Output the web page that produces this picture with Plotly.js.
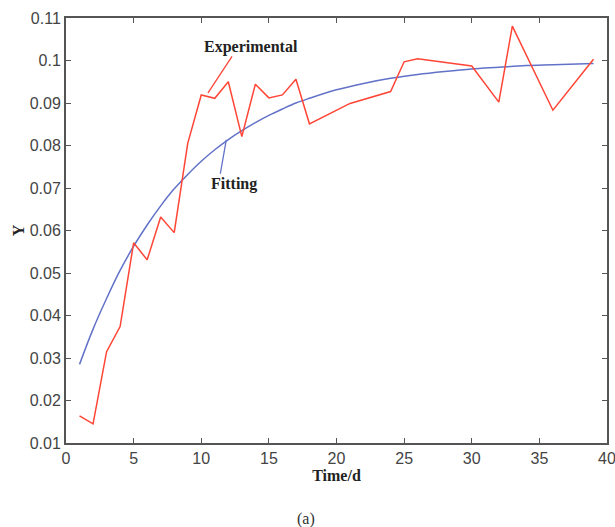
<!DOCTYPE html>
<html>
<head>
<meta charset="utf-8">
<script src="https://cdn.plot.ly/plotly-3.0.1.min.js"></script>
<style>
  html, body { margin: 0; padding: 0; background: #ffffff; }
  #chart { width: 615px; height: 527px; }
</style>
</head>
<body>
<div id="chart"></div>
<script>
// Experimental measurements (Time/d, Y)
const expDays = [1, 2, 3, 4, 5, 6, 7, 8, 9, 10, 11, 12, 13, 14, 15, 16, 17, 18, 21, 24, 25, 26, 30, 32, 33, 36, 39];
const expY = [0.0164, 0.0145, 0.0315, 0.0374, 0.0571, 0.0531, 0.0632, 0.0595, 0.0805, 0.0919, 0.0911, 0.0950, 0.0821, 0.0944, 0.0912, 0.0919, 0.0956, 0.0851, 0.0899, 0.0927, 0.0997, 0.1004, 0.0987, 0.0902, 0.1081, 0.0883, 0.1003];

// Fitted curve
const fitDays = [1, 2, 3, 4, 5, 6, 7, 8, 9, 10, 11, 12, 13, 14, 15, 16, 17, 18, 20, 22, 24, 26, 28, 30, 32, 34, 36, 39];
const fitY = [0.0285, 0.0368, 0.0440, 0.0506, 0.0563, 0.0613, 0.0658, 0.0698, 0.0732, 0.0763, 0.0790, 0.0814, 0.0835, 0.0854, 0.0871, 0.0886, 0.0900, 0.0911, 0.0931, 0.0946, 0.0958, 0.0967, 0.0974, 0.0980, 0.0984, 0.0988, 0.0990, 0.0993];

// Axis ticks
const xTickVals = [0, 5, 10, 15, 20, 25, 30, 35, 40];
const yTickVals = [0.01, 0.02, 0.03, 0.04, 0.05, 0.06, 0.07, 0.08, 0.09, 0.1, 0.11];
const yTickText = ["0.01", "0.02", "0.03", "0.04", "0.05", "0.06", "0.07", "0.08", "0.09", "0.1", "0.11"];

// Callout labels and their leader lines: [label x, label y], [tip x, tip y], [tail x, tail y]
const expLabel = {text: "Experimental", pos: [13.7, 0.1032], tip: [10.5, 0.0924], tail: [12.35, 0.1013]};
const fitLabel = {text: "Fitting", pos: [12.43, 0.0709], tip: [11.85, 0.0813], tail: [11.39, 0.0730]};
const panelLabel = "(a)";

const RED = "#ff4636";
const BLUE = "#6272c8";
const serif = "Liberation Serif, Times New Roman, serif";
const sans = "Liberation Sans, Arial, sans-serif";

const traces = [
  {x: fitDays, y: fitY, type: "scatter", mode: "lines", line: {color: BLUE, width: 1.5, shape: "spline"}, hoverinfo: "skip"},
  {x: expDays, y: expY, type: "scatter", mode: "lines", line: {color: RED, width: 1.5}, hoverinfo: "skip"}
];

function leader(lbl, color) {
  return {x: lbl.tip[0], y: lbl.tip[1], xref: "x", yref: "y",
          ax: lbl.tail[0], ay: lbl.tail[1], axref: "x", ayref: "y",
          text: "", showarrow: true, arrowhead: 0, arrowwidth: 1.3, arrowcolor: color,
          standoff: 0, startstandoff: 0};
}
function label(lbl) {
  return {x: lbl.pos[0], y: lbl.pos[1], xref: "x", yref: "y", text: "<b>" + lbl.text + "</b>",
          showarrow: false, font: {family: serif, size: 16, color: "#222"}, xanchor: "center", yanchor: "middle"};
}

const axisCommon = {
  showgrid: false, zeroline: false, showline: true, linecolor: "#555", linewidth: 2,
  mirror: "ticks", ticks: "inside", ticklen: 5, tickwidth: 1, tickcolor: "#555",
  ticklabeloverflow: "allow",
  tickfont: {family: sans, size: 16, color: "#444"}
};

const layout = {
  width: 615, height: 527,
  margin: {l: 66, r: 8, t: 18, b: 84},
  paper_bgcolor: "#ffffff", plot_bgcolor: "#ffffff",
  showlegend: false,
  xaxis: Object.assign({}, axisCommon, {
    range: [0, 40], tickvals: xTickVals, ticktext: xTickVals.map(String),
    title: {text: "<b>Time/d</b>", font: {family: serif, size: 16, color: "#222"}, standoff: 2}
  }),
  yaxis: Object.assign({}, axisCommon, {
    range: [0.01, 0.11], tickvals: yTickVals, ticktext: yTickText,
    title: {text: "<b>Y</b>", font: {family: serif, size: 16, color: "#222"}, standoff: 1}
  }),
  annotations: [
    leader(expLabel, RED), leader(fitLabel, BLUE), label(expLabel), label(fitLabel),
    {x: 0.4436, y: -0.179, xref: "paper", yref: "paper", text: panelLabel, showarrow: false,
     font: {family: serif, size: 16, color: "#333"}, xanchor: "center", yanchor: "middle"}
  ]
};

Plotly.newPlot("chart", traces, layout, {staticPlot: true, displayModeBar: false});
</script>
</body>
</html>
